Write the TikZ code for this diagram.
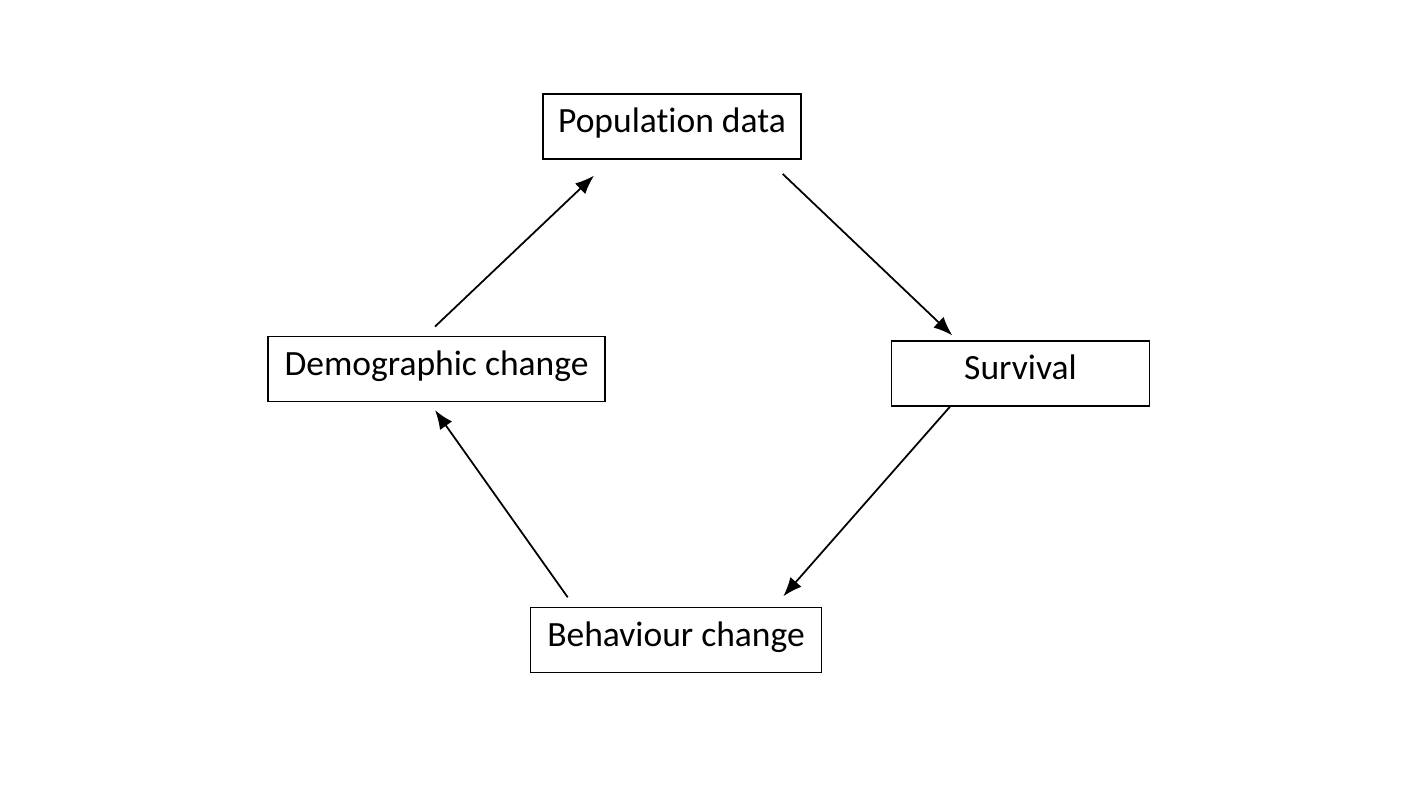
\documentclass[tikz,border=0pt]{standalone}
\usepackage{fontspec}
\setmainfont{Carlito}[Ligatures=NoCommon]
\usetikzlibrary{arrows.meta,calc}

\begin{document}
\begin{tikzpicture}[x=0.01cm, y=-0.01cm, >={Latex[length=5.4pt,width=4.2pt]}, line width=0.5pt,
  box/.style={draw, line width=0.35pt, inner sep=0pt, minimum height=0.65cm,
    text height=0.56em, text depth=0.2em, font=\fontsize{10.1}{12}\selectfont}]

\useasboundingbox (0,0) rectangle (1422,800);

\node[box, minimum width=2.58cm] (pop) at (672,126.5) {Population data};
\node[box, minimum width=2.58cm] (surv) at (1020.5,373.5) {Survival};
\node[box, minimum width=3.37cm] (demo) at (436.5,369) {Demographic change};
\node[box, minimum width=2.91cm] (behav) at (676,640) {Behaviour change};

\draw[->] ($(demo.north)+(-1.5,-9.3)$) -- ($(pop.south)+(-78,16)$);
\draw[->] ($(pop.south)+(110.7,14.3)$) -- ($(surv.north)+(-68.2,-5)$);
\draw[->] ($(surv.south)+(-70.5,0)$) -- ($(behav.north)+(107.3,-10.6)$);
\draw[->] ($(behav.north)+(-108.3,-9.6)$) -- ($(demo.south)+(-1.5,8)$);

\end{tikzpicture}
\end{document}
